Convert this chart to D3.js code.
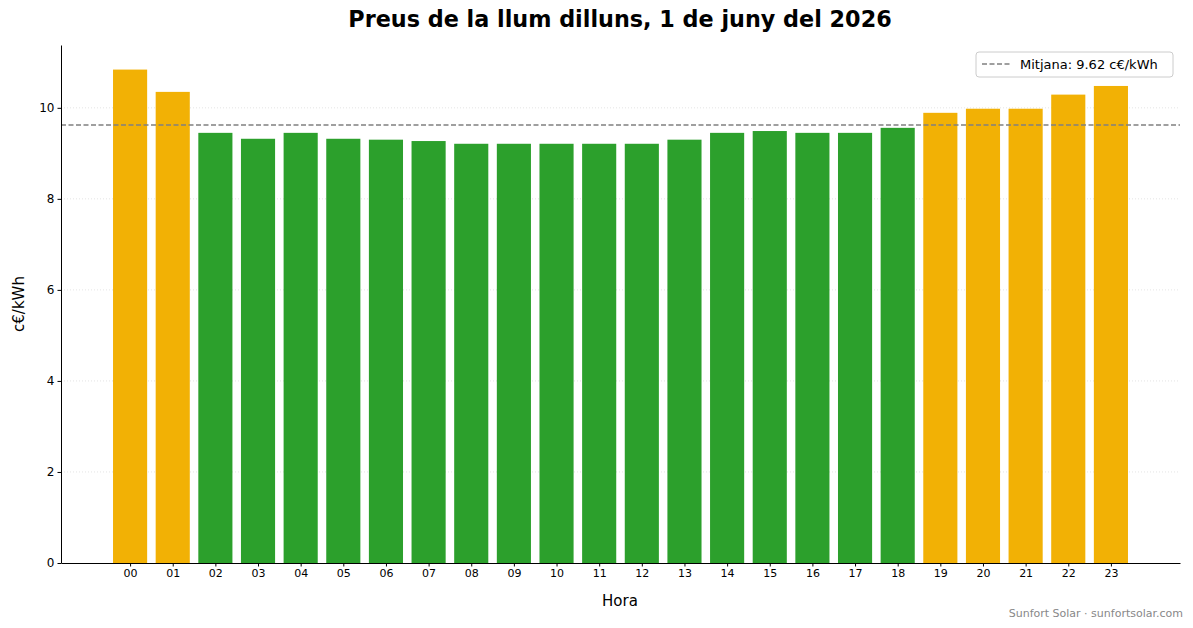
<!DOCTYPE html>
<html><head><meta charset="utf-8">
<script src="https://cdn.jsdelivr.net/npm/d3@7"></script>
<style>body{margin:0;background:#fff;font-family:"DejaVu Sans",sans-serif}</style>
</head><body><svg id="c" width="1193" height="628"></svg>
<script>
const hours = ["00","01","02","03","04","05","06","07","08","09","10","11","12","13","14","15","16","17","18","19","20","21","22","23"];
const prices = [10.84,10.35,9.45,9.32,9.45,9.32,9.30,9.27,9.21,9.21,9.21,9.21,9.21,9.30,9.45,9.49,9.45,9.45,9.56,9.89,9.98,9.98,10.29,10.48];
const mean = 9.62;
const yTicks = [0,2,4,6,8,10];
const title = "Preus de la llum dilluns, 1 de juny del 2026";

const svg = d3.select("#c");
const L=61,R=1180,T=45,B=563;
const x = d3.scaleLinear().domain([-1.62,24.62]).range([L,R]);
const y = d3.scaleLinear().domain([0,11.38]).range([B,T]);
const bw = x(0.4)-x(-0.4);

svg.append("g").selectAll("line").data(yTicks.slice(1)).join("line")
 .attr("x1",L).attr("x2",R).attr("y1",d=>y(d)).attr("y2",d=>y(d))
 .attr("stroke","#ddd").attr("stroke-width",0.8).attr("stroke-dasharray","1,2");

svg.append("g").selectAll("rect").data(prices).join("rect")
 .attr("x",(d,i)=>x(i)-bw/2).attr("width",bw)
 .attr("y",d=>y(d)).attr("height",d=>B-y(d))
 .attr("fill",d=>d>mean?"#f2b105":"#2ca02c");

svg.append("line").attr("x1",L).attr("x2",R).attr("y1",y(mean)).attr("y2",y(mean))
 .attr("stroke","#808080").attr("stroke-width",1.5).attr("stroke-dasharray","5,2.5");

const xa = svg.append("g").attr("transform",`translate(0,${B})`)
 .call(d3.axisBottom(x).tickValues(d3.range(24)).tickFormat(i=>hours[i]).tickSize(3.5).tickSizeOuter(0));
xa.selectAll("text").attr("font-size",11).attr("fill","#000").attr("font-family","DejaVu Sans");
const ya = svg.append("g").attr("transform",`translate(${L},0)`)
 .call(d3.axisLeft(y).tickValues(yTicks).tickSize(3.5).tickSizeOuter(0));
ya.selectAll("text").attr("font-size",12).attr("fill","#000").attr("font-family","DejaVu Sans");
[xa,ya].forEach(a=>{a.select(".domain").attr("stroke","#000");a.selectAll(".tick line").attr("stroke","#000");});

svg.append("text").attr("x",620).attr("y",27).attr("text-anchor","middle")
 .attr("font-size",22.3).attr("font-weight","bold").text(title);
svg.append("text").attr("x",620).attr("y",606).attr("text-anchor","middle").attr("font-size",15).text("Hora");
svg.append("text").attr("transform","translate(24,304) rotate(-90)").attr("text-anchor","middle").attr("font-size",15).text("c€/kWh");
svg.append("text").attr("x",1183).attr("y",617).attr("text-anchor","end").attr("font-size",11).attr("fill","#888").text("Sunfort Solar · sunfortsolar.com");

const lg = svg.append("g");
lg.append("rect").attr("x",976).attr("y",52).attr("width",197).attr("height",25).attr("rx",3)
 .attr("fill","#fff").attr("stroke","#ccc");
lg.append("line").attr("x1",982).attr("x2",1010).attr("y1",64).attr("y2",64)
 .attr("stroke","#808080").attr("stroke-width",1.5).attr("stroke-dasharray","5,2.5");
lg.append("text").attr("x",1020).attr("y",69).attr("font-size",13).text(`Mitjana: ${mean.toFixed(2)} c€/kWh`);
</script></body></html>
